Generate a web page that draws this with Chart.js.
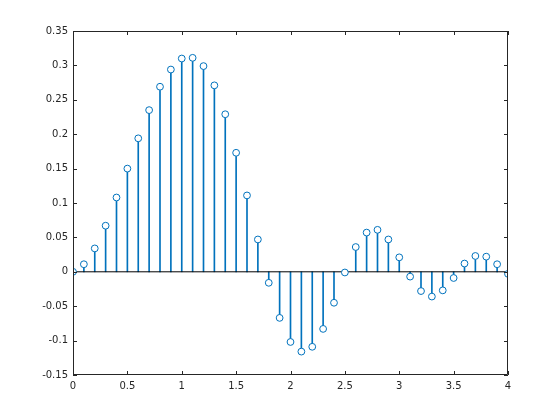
<!DOCTYPE html>
<html>
<head>
    <meta charset="utf-8">
    <script src="https://cdn.jsdelivr.net/npm/chart.js"></script>
    <title>Stem plot</title>
    <style>
        body {
            margin: 0;
            background: #fff;
        }
    </style>
</head>
<body>
    <canvas id="chart" width="560" height="420"></canvas>
    <script>
        // sample positions and values
        const xs = [0, 0.1, 0.2, 0.3, 0.4, 0.5, 0.6, 0.7, 0.8, 0.9,
            1.0, 1.1, 1.2, 1.3, 1.4, 1.5, 1.6, 1.7, 1.8, 1.9,
            2.0, 2.1, 2.2, 2.3, 2.4, 2.5, 2.6, 2.7, 2.8, 2.9,
            3.0, 3.1, 3.2, 3.3, 3.4, 3.5, 3.6, 3.7, 3.8, 3.9, 4.0]
        const ys = [0, 0.011, 0.034, 0.067, 0.108, 0.150, 0.194, 0.235, 0.269, 0.294,
            0.310, 0.311, 0.299, 0.271, 0.229, 0.173, 0.111, 0.047, -0.016, -0.067,
            -0.102, -0.116, -0.109, -0.083, -0.045, -0.001, 0.036, 0.057, 0.061, 0.047,
            0.021, -0.007, -0.028, -0.036, -0.027, -0.009, 0.012, 0.023, 0.022, 0.011, -0.003]
        const xTicks = [0, 0.5, 1, 1.5, 2, 2.5, 3, 3.5, 4]
        const yTicks = [-0.15, -0.1, -0.05, 0, 0.05, 0.1, 0.15, 0.2, 0.25, 0.3, 0.35]

        const blue = '#0072BD'
        const axisColor = '#262626'

        const points = xs.map((x, i) => ({ x: x, y: ys[i] }))

        // box round the axes with inward ticks on all four sides
        const boxPlugin = {
            id: 'box',
            afterDraw(chart) {
                const ctx = chart.ctx
                const a = chart.chartArea
                const sx = chart.scales.x
                const sy = chart.scales.y
                const len = 4
                ctx.save()
                ctx.strokeStyle = axisColor
                ctx.lineWidth = 1
                ctx.beginPath()
                ctx.rect(a.left + 0.5, a.top + 0.5, a.right - a.left - 1, a.bottom - a.top - 1)
                sx.ticks.forEach(t => {
                    const px = Math.round(sx.getPixelForValue(t.value)) + 0.5
                    ctx.moveTo(px, a.bottom)
                    ctx.lineTo(px, a.bottom - len)
                    ctx.moveTo(px, a.top)
                    ctx.lineTo(px, a.top + len)
                })
                sy.ticks.forEach(t => {
                    const py = Math.round(sy.getPixelForValue(t.value)) + 0.5
                    ctx.moveTo(a.left, py)
                    ctx.lineTo(a.left + len, py)
                    ctx.moveTo(a.right, py)
                    ctx.lineTo(a.right - len, py)
                })
                ctx.stroke()
                ctx.restore()
            }
        }

        const tickFont = { family: 'DejaVu Sans', size: 10 }

        new Chart(document.getElementById('chart'), {
            type: 'bar',
            data: {
                datasets: [{
                    type: 'scatter',
                    data: points,
                    pointStyle: 'circle',
                    pointRadius: 3.4,
                    borderWidth: 1,
                    borderColor: blue,
                    backgroundColor: '#fff',
                    order: 0
                }, {
                    type: 'line',
                    data: [{ x: xs[0], y: 0 }, { x: xs[xs.length - 1], y: 0 }],
                    borderColor: '#000',
                    borderWidth: 1,
                    pointRadius: 0,
                    order: 1
                }, {
                    type: 'bar',
                    data: points,
                    backgroundColor: blue,
                    borderWidth: 0,
                    barThickness: 1,
                    order: 2
                }]
            },
            options: {
                responsive: false,
                animation: false,
                layout: {
                    padding: { top: 31, right: 52, left: 0, bottom: 0 }
                },
                plugins: {
                    legend: { display: false },
                    tooltip: { enabled: false }
                },
                scales: {
                    x: {
                        type: 'linear',
                        min: 0,
                        max: 4,
                        offset: false,
                        border: { display: false },
                        grid: { display: false, drawTicks: false },
                        afterBuildTicks: s => { s.ticks = xTicks.map(v => ({ value: v })) },
                        afterFit: s => { s.height = 45 },
                        ticks: {
                            color: axisColor,
                            font: tickFont,
                            padding: 5,
                            maxRotation: 0,
                            callback: v => String(Number(v.toFixed(2)))
                        }
                    },
                    y: {
                        min: -0.15,
                        max: 0.35,
                        border: { display: false },
                        grid: { display: false, drawTicks: false },
                        afterBuildTicks: s => { s.ticks = yTicks.map(v => ({ value: v })) },
                        afterFit: s => { s.width = 73 },
                        ticks: {
                            color: axisColor,
                            font: tickFont,
                            padding: 5,
                            callback: v => String(Number(v.toFixed(2)))
                        }
                    }
                }
            },
            plugins: [boxPlugin]
        })
    </script>
</body>
</html>
